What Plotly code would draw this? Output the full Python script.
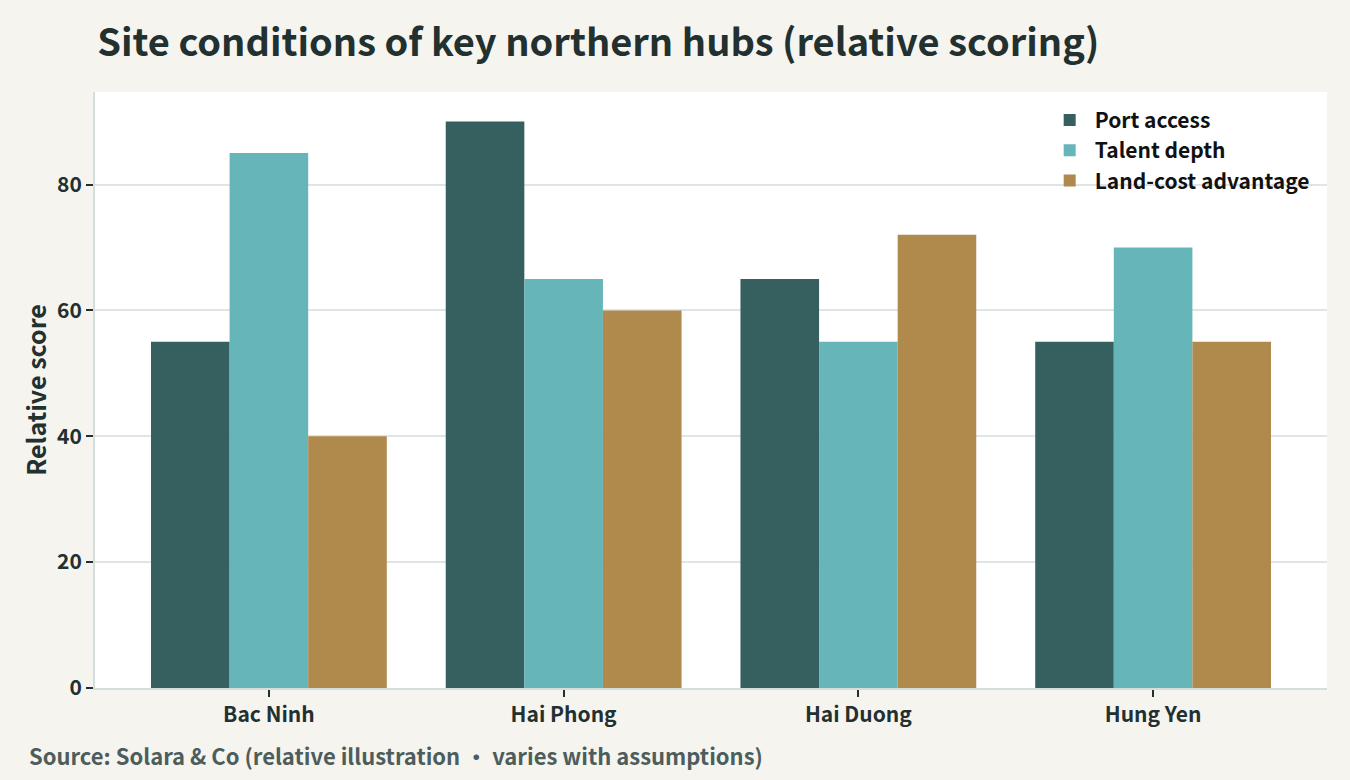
import plotly.graph_objects as go

hubs = ["Bac Ninh", "Hai Phong", "Hai Duong", "Hung Yen"]
port_access = [55, 90, 65, 55]
talent_depth = [85, 65, 55, 70]
land_cost = [40, 60, 72, 55]

FONT = "Noto Sans CJK SC, Noto Sans, sans-serif"
INK = "#22302f"

fig = go.Figure()
fig.add_trace(go.Bar(x=hubs, y=port_access, name="<b>Port access</b>", marker_color="#365f5f"))
fig.add_trace(go.Bar(x=hubs, y=talent_depth, name="<b>Talent depth</b>", marker_color="#66b5b9"))
fig.add_trace(go.Bar(x=hubs, y=land_cost, name="<b>Land-cost advantage</b>", marker_color="#b0894d"))
fig.update_traces(marker_line_width=0)

fig.update_layout(
    width=1350,
    height=780,
    paper_bgcolor="#f5f4ef",
    plot_bgcolor="#ffffff",
    barmode="group",
    bargap=0.2,
    bargroupgap=0,
    margin=dict(l=95, r=23, t=92, b=92),
    font=dict(family=FONT, color=INK),
    title=dict(
        text="<b>Site conditions of key northern hubs (relative scoring)</b>",
        x=0.072, xanchor="left", y=0.945, yanchor="middle",
        font=dict(size=38, color=INK, family=FONT),
    ),
    legend=dict(
        x=0.99, xanchor="right", y=0.987, yanchor="top",
        bgcolor="rgba(255,255,255,0)",
        font=dict(size=21, color="#111111", family=FONT),
        itemwidth=40,
        tracegroupgap=0,
    ),
    xaxis=dict(
        range=[-0.59, 3.59],
        showgrid=False,
        showline=True, linecolor="#d5dddd", linewidth=2,
        ticks="outside", ticklen=7, tickcolor=INK, tickwidth=2,
        tickfont=dict(size=21, color=INK, family=FONT),
        tickprefix="<b>", ticksuffix="</b>",
    ),
    yaxis=dict(
        range=[0, 94.7],
        dtick=20,
        showgrid=True, gridcolor="#dfe5e5", gridwidth=2,
        showline=True, linecolor="#d5dddd", linewidth=2,
        zeroline=False,
        ticks="outside", ticklen=7, tickcolor=INK, tickwidth=2,
        tickfont=dict(size=21, color=INK, family=FONT),
        tickprefix="<b>", ticksuffix="</b>",
        title=dict(text="<b>Relative score</b>", font=dict(size=25, color=INK, family=FONT), standoff=3),
    ),
    annotations=[
        dict(
            text="<b>Source: Solara & Co (relative illustration · varies with assumptions)</b>",
            xref="paper", yref="paper", x=-0.055, y=-0.113,
            xanchor="left", yanchor="middle", showarrow=False,
            font=dict(size=22, color="#4d5d5c", family=FONT),
        )
    ],
)

fig.write_html(
    "out.html",
    config={"displayModeBar": False},
    post_script="document.body.style.margin='0';",
)
